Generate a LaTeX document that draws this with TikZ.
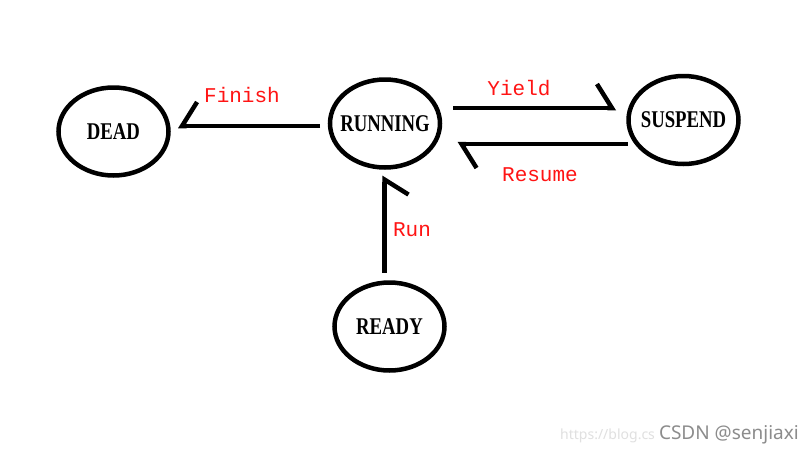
\documentclass[tikz,border=0pt]{standalone}
\usepackage{fontspec}
\setmainfont{Liberation Serif}
\newfontfamily\nodefont[FakeStretch=0.78]{Liberation Serif}
\newfontfamily\labfont{Liberation Mono}
\newfontfamily\wmfont{Noto Sans}
\usetikzlibrary{shapes.geometric,arrows.meta}
\definecolor{lblred}{RGB}{255,20,20}
\begin{document}
\begin{tikzpicture}[x=1pt,y=1pt,
  state/.style={draw,ellipse,line width=4.5pt,minimum width=110pt,minimum height=88pt,
    inner xsep=-25pt,inner ysep=0pt,outer sep=0pt,
    font=\nodefont\bfseries\fontsize{24}{26}\selectfont},
  edge/.style={line width=4.5pt},
  barbL/.style={-{Straight Barb[harpoon,length=15pt,width=48pt,line width=4.5pt]}},
  barbR/.style={-{Straight Barb[harpoon,swap,length=15pt,width=48pt,line width=4.5pt]}},
  lbl/.style={text=lblred,font=\labfont\fontsize{21}{23}\selectfont,inner sep=0pt}]
\useasboundingbox (0,0) rectangle (812,-456);
\fill[white] (0,0) rectangle (812,-456);
\node[state] (dead) at (113.5,-131.5) {DEAD};
\node[state] (running) at (385,-123.5) {RUNNING};
\node[state] (suspend) at (683.5,-120) {SUSPEND};
\node[state] (ready) at (389.5,-326.5) {READY};
% Finish
\draw[edge,barbR] (running.west) ++(-10,-2.5) -- ++(-142,0);
% Yield
\draw[edge,barbL] (running.east) ++(13,15.5) -- ++(163,0);
% Resume
\draw[edge,barbL] (suspend.west) ++(-1,-24) -- ++(-170,0);
% Run
\draw[edge,barbR] (ready.north) ++(-5,10) -- ++(0,97);
\node[lbl] (lf) at (242,-95) {Finish};
\node[lbl] (ly) at (519,-88) {Yield};
\node[lbl] (lr) at (540,-175) {Resume};
\node[lbl] (lu) at (412,-230) {Run};
\node[anchor=west,inner sep=0pt,text=black!12,font=\wmfont\fontsize{14}{16}\selectfont] (url) at (560,-436) {https://blog.cs};
\node[anchor=east,inner sep=0pt,text=black!45,font=\wmfont\fontsize{19}{21}\selectfont] (wm) at (799,-435) {CSDN @senjiaxi};
\end{tikzpicture}
\end{document}
